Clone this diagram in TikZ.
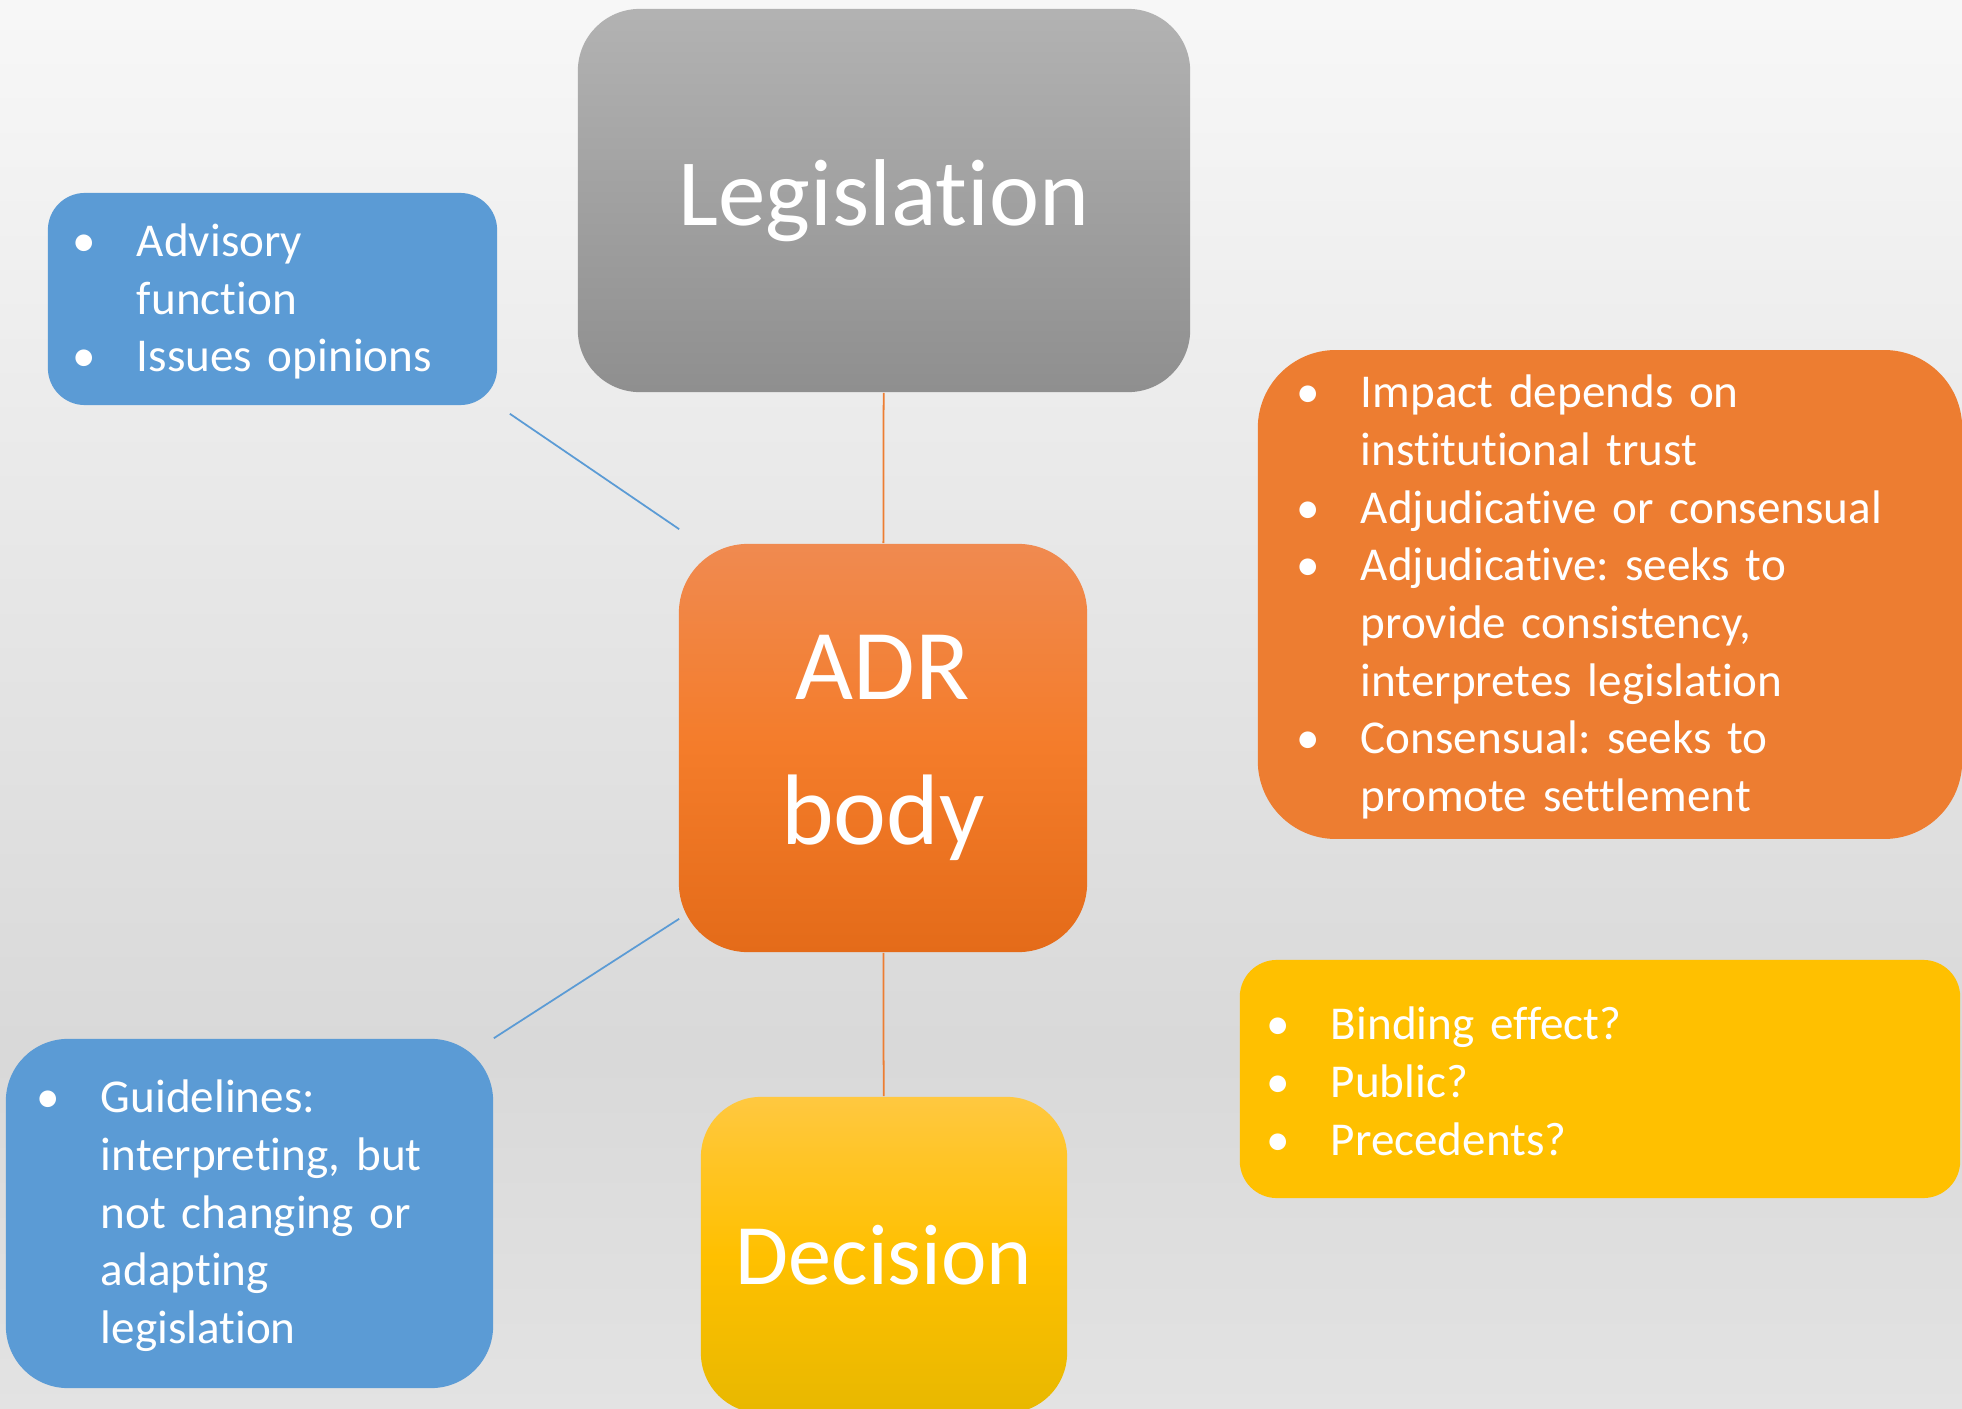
\documentclass[tikz,border=0pt]{standalone}
\usepackage{fontspec}
\setmainfont{Carlito}[Ligatures=NoCommon]
\usetikzlibrary{calc}

\definecolor{blueA}{HTML}{5B9BD5}
\definecolor{orangeA}{HTML}{ED7D31}
\definecolor{yellowA}{HTML}{FFC000}
\definecolor{adrtop}{HTML}{F08A50}
\definecolor{adrmid}{HTML}{F47C2A}
\definecolor{adrbot}{HTML}{E46B19}
\definecolor{dectop}{HTML}{FFC840}
\definecolor{decbot}{HTML}{E8B800}

\pgfdeclareverticalshading{backdrop}{100bp}{color(0bp)=(white!89!black);
  color(25bp)=(white!89!black); color(37.7bp)=(white!85!black);
  color(75bp)=(white!97!black); color(100bp)=(white!97!black)}

\newenvironment{bullets}{\begin{list}{\textbullet}{%
  \setlength{\leftmargin}{0.64cm}\setlength{\labelwidth}{0.64cm}%
  \setlength{\labelsep}{0pt}\setlength{\itemsep}{0pt}%
  \setlength{\parsep}{0pt}\setlength{\topsep}{0pt}%
  \setlength{\partopsep}{0pt}\renewcommand{\makelabel}[1]{##1\hfil}}%
  \raggedright\frenchspacing}
  {\end{list}\par\kern0.2cm}

\begin{document}
\begin{tikzpicture}[x=0.01cm, y=-0.01cm]

  \tikzstyle{box}=[inner sep=0pt, text=white]
  \tikzstyle{note}=[box, font=\fontsize{13.4}{16.4}\selectfont]
  \tikzstyle{link}=[line width=0.5pt]

  \useasboundingbox (0,0) rectangle (1962,1409);
  \shade [shading=backdrop] (0,0) rectangle (1962,1409);

  \node [box, minimum width=6.12cm, minimum height=3.83cm, rounded corners=0.62cm,
    top color=black!30, bottom color=black!44,
    font=\fontsize{27}{32}\selectfont] (leg) at (884,200.5) {Legislation};

  \node [box, minimum width=4.08cm, minimum height=4.08cm, rounded corners=0.69cm,
    top color=adrtop, bottom color=adrbot, middle color=adrmid, align=center,
    font=\fontsize{28.5}{41}\selectfont] (adr) at (883,748) {ADR\\body};

  \node [box, minimum width=3.66cm, minimum height=3.16cm, rounded corners=0.6cm,
    top color=dectop, bottom color=decbot, middle color=yellowA,
    font=\fontsize{24.5}{30}\selectfont] (dec) at (884,1255) {Decision};

  \node [note, fill=blueA, minimum width=4.49cm, minimum height=2.12cm,
    rounded corners=0.37cm, text width=3.99cm] (adv) at (272.5,299) {
\begin{bullets}
\item Advisory\\function
\item Issues opinions
\end{bullets}};

  \node [note, fill=blueA, minimum width=4.87cm, minimum height=3.49cm,
    rounded corners=0.62cm, text width=4.25cm] (guide) at (249.5,1213.5) {
\begin{bullets}
\item Guidelines:\\interpreting, but\\not changing or\\adapting\\legislation
\end{bullets}};

  \node [note, fill=orangeA, minimum width=7.04cm, minimum height=4.83cm,
    rounded corners=0.78cm, text width=6.26cm] (impact) at (1610,594.5) {
\begin{bullets}
\item Impact depends on\\institutional trust
\item Adjudicative or consensual
\item Adjudicative: seeks to\\provide consistency,\\interpretes legislation
\item Consensual: seeks to\\promote settlement
\end{bullets}};

  \node [note, fill=yellowA, minimum width=7.2cm, minimum height=2.38cm,
    rounded corners=0.37cm, text width=6.66cm] (effect) at (1600,1079) {
\begin{bullets}
\item Binding effect?
\item Public?
\item Precedents?
\end{bullets}};

  \draw [link, orangeA] (leg) -- (adr);
  \draw [link, orangeA] (adr) -- (dec);
  \draw [link, blueA] ($(adv.south east)+(12,8)$) -- ($(adr.north west)+(1,-14)$);
  \draw [link, blueA] ($(adr.south west)+(1,-34)$) -- (guide.north east);

\end{tikzpicture}
\end{document}
